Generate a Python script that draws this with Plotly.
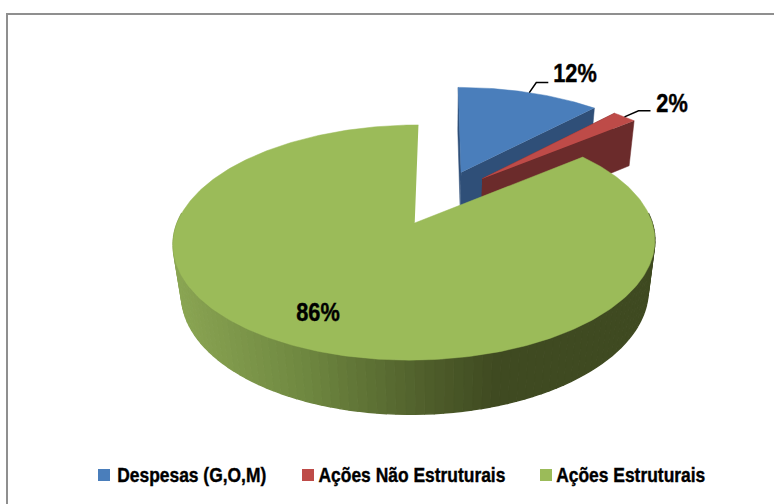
import numpy as np
import plotly.graph_objects as go

categories = ["Despesas (G,O,M)", "Ações Não Estruturais", "Ações Estruturais"]
values = [12, 2, 86]
top_colors = ["#4a7ebb", "#be4b48", "#9bbb59"]
wall_colors = ["#2f4f78", "#6b2b2b", "#3f4a21"]

# view of the tilted pie, in page pixels
X0, Y0, B, A, K, C, M = 440.0, 197.1, 228.6, 105.9, 0.16, 50.0, 0.03
EXPLODE = 0.26
SLICE_DX = [0, 0, 1]
FONT = "Liberation Sans"


def project(u, v, z=0.0, dx=0):
    d = 1 + K * v + M * z
    return X0 + dx + B * u / d, Y0 + (-A * v + C * z) / d


def lerp_color(x):
    stops_x = [170, 300, 430, 495]
    stops = np.array([[0x8c, 0xa7, 0x54], [0x70, 0x89, 0x41], [0x4e, 0x5d, 0x2a], [0x3f, 0x4a, 0x21]])
    rgb = [np.interp(x, stops_x, stops[:, i]) for i in range(3)]
    return "rgb({:.0f},{:.0f},{:.0f})".format(*rgb)


def poly(xs, ys, color, width=0.5):
    return go.Scatter(x=list(xs), y=list(ys), mode="lines", fill="toself", fillcolor=color,
                      line=dict(color=color, width=width), hoverinfo="skip", showlegend=False)


edges = np.radians(np.concatenate([[0], np.cumsum(values)]) * 3.6)
fig = go.Figure()
arc_mid = []

for i in range(len(values)):
    a0, a1 = edges[i], edges[i + 1]
    mid = (a0 + a1) / 2
    cu, cv = EXPLODE * np.sin(mid), EXPLODE * np.cos(mid)
    th = np.linspace(a0, a1, max(8, int(np.degrees(a1 - a0) * 1.2)))
    us, vs = cu + np.sin(th), cv + np.cos(th)
    dx = SLICE_DX[i]
    arc_mid.append(project(cu + np.sin(mid), cv + np.cos(mid)))

    if i < 2:
        # radial side faces of the two small slices
        for a in (a0, a1):
            eu, ev = cu + np.sin(a), cv + np.cos(a)
            pts = [project(cu, cv), project(eu, ev), project(eu, ev, 1), project(cu, cv, 1)]
            fig.add_trace(poly([p[0] for p in pts], [p[1] for p in pts], wall_colors[i]))
    else:
        # shaded outer wall of the large slice
        w = np.radians(np.arange(85, 276, 2.0))
        for t0, t1 in zip(w[:-1], w[1:]):
            pts = [project(cu + np.sin(t), cv + np.cos(t), z, dx) for t, z in
                   [(t0, 0), (t1, 0), (t1, 1), (t0, 1)]]
            fig.add_trace(poly([p[0] for p in pts], [p[1] for p in pts],
                               lerp_color(np.mean([p[0] for p in pts])), width=1.4))

    ax, ay = project(cu, cv, 0, dx)
    px, py = project(us, vs, 0, dx)
    fig.add_trace(poly(np.r_[ax, px], np.r_[ay, py], top_colors[i]))

# leader lines for the two small slices
for (sx, sy), (dx1, dy1, dx2) in zip(arc_mid[:2], [(7, -10, 19), (14, -6, 26)]):
    fig.add_trace(go.Scatter(x=[sx, sx + dx1, sx + dx2], y=[sy, sy + dy1, sy + dy1], mode="lines",
                             line=dict(color="black", width=1.5), hoverinfo="skip", showlegend=False))

# frame
fig.add_shape(type="path", path="M 7 504 L 7 14 L 774 14", line=dict(color="#8f8f8f", width=2))

# percentage labels
for v, (x, y) in zip(values, [(575, 73), (672, 103), (318, 312)]):
    fig.add_annotation(x=x, y=y, text=f"{v}%", showarrow=False, xanchor="center", yanchor="middle",
                       font=dict(family=FONT, size=25, color="black", weight="bold"))

# legend row
for name, color, sx, cx in zip(categories, top_colors, [104, 308, 546], [191, 412, 630.5]):
    fig.add_trace(go.Scatter(x=[sx], y=[475], mode="markers", name=name, showlegend=False, hoverinfo="skip",
                             marker=dict(symbol="square", size=12, color=color, line=dict(width=0))))
    fig.add_annotation(x=cx, y=474, text=name, showarrow=False, xanchor="center", yanchor="middle",
                       font=dict(family=FONT, size=20.5, color="black", weight="bold"))

fig.update_layout(
    width=774, height=504, autosize=False,
    margin=dict(l=0, r=0, t=0, b=0),
    paper_bgcolor="white", plot_bgcolor="white", showlegend=False,
    xaxis=dict(range=[0, 774], visible=False, fixedrange=True),
    yaxis=dict(range=[504, 0], visible=False, fixedrange=True),
)

# the original type is a narrow heavy face: squeeze the real text, and drop the page margin
post = """
document.body.style.margin = '0';
function squeeze() {
  document.querySelectorAll('text.annotation-text').forEach(function (t) {
    if (t.dataset.sq) return;
    var w = t.getComputedTextLength();
    if (!w) return;
    t.dataset.sq = '1';
    var ratio = t.textContent.length > 4 ? 0.85 : 0.87;
    t.setAttribute('textLength', (w * ratio).toFixed(1));
    t.setAttribute('lengthAdjust', 'spacingAndGlyphs');
    t.style.stroke = 'black';
    t.style.strokeWidth = '0.4px';
  });
}
squeeze();
setTimeout(squeeze, 0);
setTimeout(squeeze, 100);
"""
fig.write_html("out.html", config=dict(displayModeBar=False), post_script=post)
